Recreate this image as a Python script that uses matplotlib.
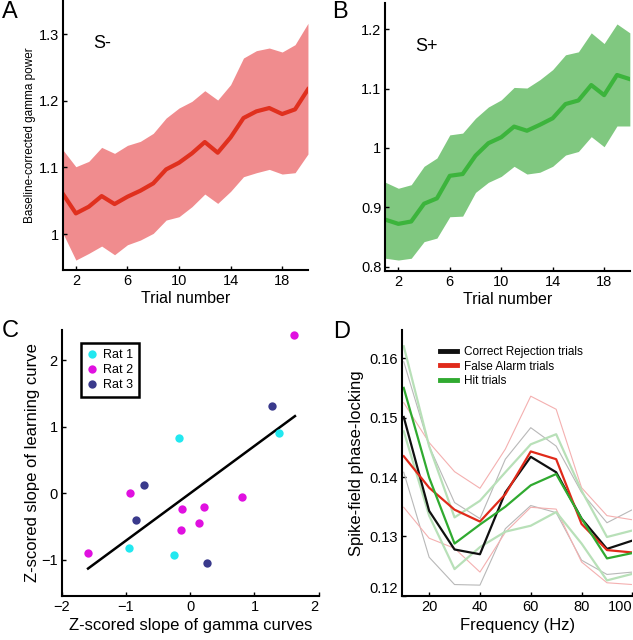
import numpy as np
import matplotlib
matplotlib.use("Agg")
import matplotlib.pyplot as plt
from matplotlib.lines import Line2D

plt.rcParams['font.family'] = ['Liberation Sans', 'DejaVu Sans']

# --- data ---
trials = np.arange(1, 21)

sminus_mean = [1.060, 1.031, 1.041, 1.057, 1.045, 1.056, 1.065, 1.076, 1.097, 1.107,
               1.121, 1.138, 1.122, 1.145, 1.174, 1.184, 1.189, 1.180, 1.187, 1.217]
sminus_upper = [1.126, 1.101, 1.109, 1.130, 1.121, 1.133, 1.139, 1.151, 1.174, 1.189,
                1.199, 1.215, 1.201, 1.224, 1.264, 1.275, 1.279, 1.273, 1.284, 1.316]
sminus_lower = [1.001, 0.961, 0.971, 0.982, 0.969, 0.984, 0.991, 1.001, 1.021, 1.026,
                1.041, 1.060, 1.046, 1.064, 1.086, 1.092, 1.097, 1.090, 1.092, 1.120]

splus_mean = [0.879, 0.872, 0.876, 0.906, 0.915, 0.953, 0.956, 0.987, 1.008, 1.018,
              1.036, 1.029, 1.039, 1.050, 1.074, 1.080, 1.106, 1.089, 1.123, 1.116]
splus_upper = [0.942, 0.932, 0.938, 0.969, 0.983, 1.022, 1.025, 1.050, 1.069, 1.081,
               1.102, 1.101, 1.115, 1.132, 1.157, 1.162, 1.194, 1.176, 1.209, 1.194]
splus_lower = [0.814, 0.811, 0.814, 0.842, 0.848, 0.884, 0.885, 0.925, 0.942, 0.952,
               0.969, 0.956, 0.959, 0.969, 0.988, 0.994, 1.019, 1.002, 1.037, 1.037]

rat1_x = [-0.18, 1.385, -0.956, -0.258]
rat1_y = [0.835, 0.90, -0.815, -0.925]
rat2_x = [1.62, -0.94, 0.80, -0.124, 0.217, 0.134, -0.15, -1.587]
rat2_y = [2.375, 0.0, -0.05, -0.24, -0.20, -0.45, -0.55, -0.89]
rat3_x = [1.28, -0.72, -0.837, 0.258]
rat3_y = [1.315, 0.12, -0.405, -1.05]
fit_x = [-1.59, 1.63]
fit_y = [-1.13, 1.16]

freqs = [10, 20, 30, 40, 50, 60, 70, 80, 90, 100]
cr_mean = [0.1501, 0.1343, 0.1278, 0.1270, 0.1374, 0.1434, 0.1408, 0.1330, 0.1279, 0.1293]
cr_upper = [0.1594, 0.1452, 0.1357, 0.1330, 0.1430, 0.1483, 0.1452, 0.1374, 0.1323, 0.1345]
cr_lower = [0.1408, 0.1265, 0.1219, 0.1218, 0.1313, 0.1352, 0.1340, 0.1260, 0.1236, 0.1240]
fa_mean = [0.1435, 0.1382, 0.1345, 0.1325, 0.1371, 0.1443, 0.1430, 0.1321, 0.1277, 0.1273]
fa_upper = [0.1525, 0.1458, 0.1409, 0.1381, 0.1447, 0.1536, 0.1514, 0.1382, 0.1335, 0.1328]
fa_lower = [0.1349, 0.1297, 0.1280, 0.1240, 0.1307, 0.1349, 0.1346, 0.1257, 0.1222, 0.1219]
hit_mean = [0.1550, 0.1399, 0.1288, 0.1320, 0.1350, 0.1386, 0.1405, 0.1330, 0.1263, 0.1272]
hit_upper = [0.1620, 0.1452, 0.1332, 0.1360, 0.1408, 0.1455, 0.1472, 0.1377, 0.1299, 0.1310]
hit_lower = [0.1477, 0.1335, 0.1245, 0.1282, 0.1308, 0.1318, 0.1341, 0.1288, 0.1226, 0.1237]

# --- figure ---
fig = plt.figure(figsize=(6.33, 6.4), dpi=100)


def style(ax):
    for s in ['top', 'right']:
        ax.spines[s].set_visible(False)
    for s in ['left', 'bottom']:
        ax.spines[s].set_linewidth(1.5)
    ax.tick_params(direction='in', length=3, width=1, labelsize=10.5, pad=3)


# A
axA = fig.add_axes([0.0995, 0.578, 0.387, 0.422])
axA.fill_between(trials, sminus_lower, sminus_upper, color='#f08c8e', lw=0)
axA.plot(trials, sminus_mean, color='#e0301e', lw=3)
axA.set_xlim(1, 20)
axA.set_ylim(0.946, 1.351)
axA.set_xticks([2, 6, 10, 14, 18])
axA.set_yticks([1.0, 1.1, 1.2, 1.3])
axA.set_yticklabels(['1', '1.1', '1.2', '1.3'])
axA.set_xlabel('Trial number', fontsize=11.5, labelpad=2)
axA.set_ylabel('Baseline-corrected gamma power', fontsize=8.5, labelpad=2)
axA.text(0.125, 0.84, 'S-', transform=axA.transAxes, fontsize=13, va='center')
style(axA)
fig.text(0.003, 0.972, 'A', fontsize=17)

# B
axB = fig.add_axes([0.609, 0.577, 0.386, 0.418])
axB.fill_between(trials, splus_lower, splus_upper, color='#80c880', lw=0)
axB.plot(trials, splus_mean, color='#3cb43c', lw=3)
axB.set_xlim(1, 20)
axB.set_ylim(0.793, 1.244)
axB.set_xticks([2, 6, 10, 14, 18])
axB.set_yticks([0.8, 0.9, 1.0, 1.1, 1.2])
axB.set_yticklabels(['0.8', '0.9', '1', '1.1', '1.2'])
axB.set_xlabel('Trial number', fontsize=11.5, labelpad=2)
axB.text(0.12, 0.84, 'S+', transform=axB.transAxes, fontsize=13, va='center')
style(axB)
fig.text(0.525, 0.972, 'B', fontsize=17)

# C
axC = fig.add_axes([0.0975, 0.069, 0.406, 0.415])
axC.plot(fit_x, fit_y, color='black', lw=1.8)
axC.plot(rat1_x, rat1_y, 'o', color='#22e8f0', ms=6, mec='none', label='Rat 1')
axC.plot(rat2_x, rat2_y, 'o', color='#e010e0', ms=6, mec='none', label='Rat 2')
axC.plot(rat3_x, rat3_y, 'o', color='#3a3a8c', ms=6, mec='none', label='Rat 3')
axC.set_xlim(-2, 2)
axC.set_ylim(-1.54, 2.45)
axC.set_xticks([-2, -1, 0, 1, 2])
axC.set_yticks([-1, 0, 1, 2])
axC.set_xlabel('Z-scored slope of gamma curves', fontsize=12, labelpad=3)
axC.set_ylabel('Z-scored slope of learning curve', fontsize=12, labelpad=1)
leg = axC.legend(loc='upper left', bbox_to_anchor=(0.075, 0.951), fontsize=9,
                 handlelength=0.8, handletextpad=0.5, borderpad=0.45,
                 labelspacing=0.25, borderaxespad=0, fancybox=False, framealpha=1)
leg.get_frame().set_edgecolor('black')
leg.get_frame().set_linewidth(1.8)
style(axC)
for lab in axC.get_xticklabels():
    if lab.get_text() == '2':
        lab.set_horizontalalignment('right')
fig.text(0.003, 0.473, 'C', fontsize=17)

# D
axD = fig.add_axes([0.635, 0.069, 0.364, 0.415])
for lo, hi, c, w in [(cr_lower, cr_upper, '#b8b8b8', 0.8),
                     (fa_lower, fa_upper, '#f4b0b0', 0.8),
                     (hit_lower, hit_upper, '#b8e0b8', 1.6)]:
    axD.plot(freqs, lo, color=c, lw=w)
    axD.plot(freqs, hi, color=c, lw=w)
axD.plot(freqs, cr_mean, color='#101010', lw=1.6)
axD.plot(freqs, fa_mean, color='#e02a1a', lw=1.6)
axD.plot(freqs, hit_mean, color='#30aa30', lw=1.6)
axD.set_xlim(9.3, 100)
axD.set_ylim(0.1202, 0.1647)
axD.set_xticks([20, 40, 60, 80, 100])
axD.set_yticks([0.12, 0.13, 0.14, 0.15, 0.16])
axD.set_xlabel('Frequency (Hz)', fontsize=12, labelpad=3)
axD.set_ylabel('Spike-field phase-locking', fontsize=12, labelpad=4)
handles = [Line2D([], [], color='#101010', lw=3.5),
           Line2D([], [], color='#e02a1a', lw=3.5),
           Line2D([], [], color='#30aa30', lw=3.5)]
axD.legend(handles, ['Correct Rejection trials', 'False Alarm trials', 'Hit trials'],
           loc='upper left', bbox_to_anchor=(0.12, 0.98), frameon=False,
           fontsize=8.5, handlelength=1.4, handletextpad=0.6, labelspacing=0.2)
style(axD)
for lab in axD.get_xticklabels():
    if lab.get_text() == '100':
        lab.set_horizontalalignment('right')
for lab in axD.get_yticklabels():
    if lab.get_text() == '0.12':
        lab.set_verticalalignment('bottom')
fig.text(0.526, 0.472, 'D', fontsize=17)

fig.savefig('out.png', dpi=100)
